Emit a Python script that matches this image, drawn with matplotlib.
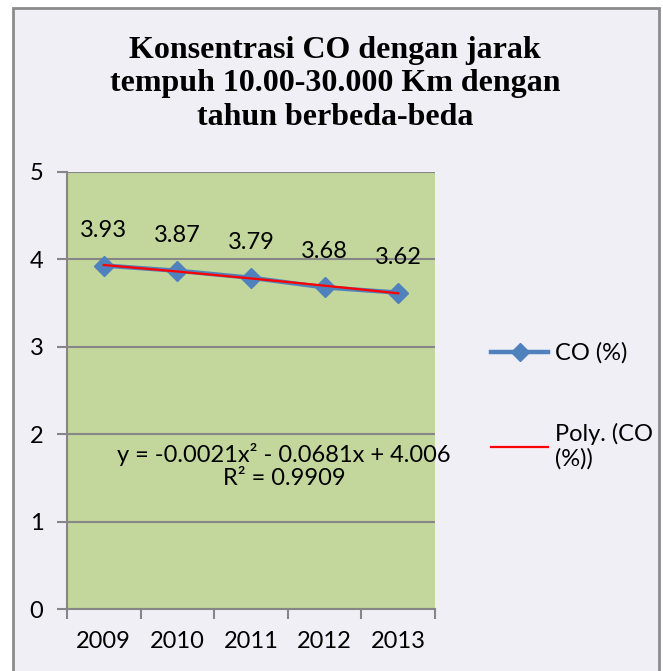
import numpy as np
import matplotlib.pyplot as plt
from matplotlib.patches import Rectangle
from matplotlib.lines import Line2D

years = ['2009', '2010', '2011', '2012', '2013']
co = [3.93, 3.87, 3.79, 3.68, 3.62]
label_co = 'CO (%)'
label_poly = 'Poly. (CO\n(%))'
title = 'Konsentrasi CO dengan jarak\ntempuh 10.00-30.000 Km dengan\ntahun berbeda-beda'
eq_text = 'y = -0.0021x\u00b2 - 0.0681x + 4.006\nR\u00b2 = 0.9909'

plt.rcParams['font.family'] = ['Lato', 'DejaVu Sans']
fs = 17

fig = plt.figure(figsize=(6.63, 6.71), dpi=100)
fig.patch.set_facecolor('white')
# chart area background with its grey border (bottom edge is cut off)
fig.patches.append(Rectangle((13/663, -0.02), (659-13)/663, 1-8/671+0.02,
                             transform=fig.transFigure, facecolor='#F1EFF6',
                             edgecolor='#8C8C8C', lw=2, zorder=-10))

ax = fig.add_axes([67/663, 1-609/671, (435-67)/663, (609-172)/671])
ax.set_facecolor('#C3D69B')

x = np.arange(len(years))
# second-order trendline fitted on x = 1..n, as Excel does
coef = np.polyfit(x + 1, co, 2)
xs = np.linspace(0, len(years) - 1, 100)
trend = np.polyval(coef, xs + 1)

ax.plot(x, co, color='#4F81BD', lw=3.2, marker='D', ms=10, zorder=3)
ax.plot(xs, trend, color='#FF0000', lw=1.6, zorder=4)

for xi, v in zip(x, co):
    ax.annotate(f'{v:.2f}', (xi, v), xytext=(0, 18), textcoords='offset points',
                ha='center', va='bottom', fontsize=fs)

ax.text(2.45, 1.64, eq_text, ha='center', va='center', fontsize=fs,
        linespacing=1.1)

ax.set_xlim(-0.5, len(years) - 0.5)
ax.set_ylim(0, 5)
ax.set_yticks(range(6))
ax.set_xticks(np.arange(-0.5, len(years), 1.0))
ax.set_xticklabels([])
ax.set_xticks(x, minor=True)
ax.set_xticklabels(years, minor=True)
ax.tick_params(axis='x', which='minor', length=0, pad=16, labelsize=fs)
ax.tick_params(axis='x', which='major', length=7, width=1.5, color='#868686')
ax.tick_params(axis='y', length=7, width=1.5, color='#868686', labelsize=fs, pad=10)
ax.yaxis.grid(True, color='#868686', lw=1.5)
ax.set_axisbelow(True)
for s in ['top', 'right']:
    ax.spines[s].set_visible(False)
for s in ['left', 'bottom']:
    ax.spines[s].set_color('#868686')
    ax.spines[s].set_linewidth(1.5)

fig.text(335/663, 1-84/671, title, ha='center', va='center', fontsize=23,
         fontweight='bold', family=['Liberation Serif', 'DejaVu Serif'],
         linespacing=1.2)

handles = [Line2D([], [], color='#4F81BD', lw=3.2, marker='D', ms=9),
           Line2D([], [], color='#FF0000', lw=1.6)]
fig.legend(handles, [label_co, label_poly], loc='upper left',
           bbox_to_anchor=(470/663, 1-321/671), frameon=False, fontsize=fs,
           handlelength=2.4, handletextpad=0.3, labelspacing=2.5)

fig.savefig('out.png', dpi=100, facecolor=fig.get_facecolor())
